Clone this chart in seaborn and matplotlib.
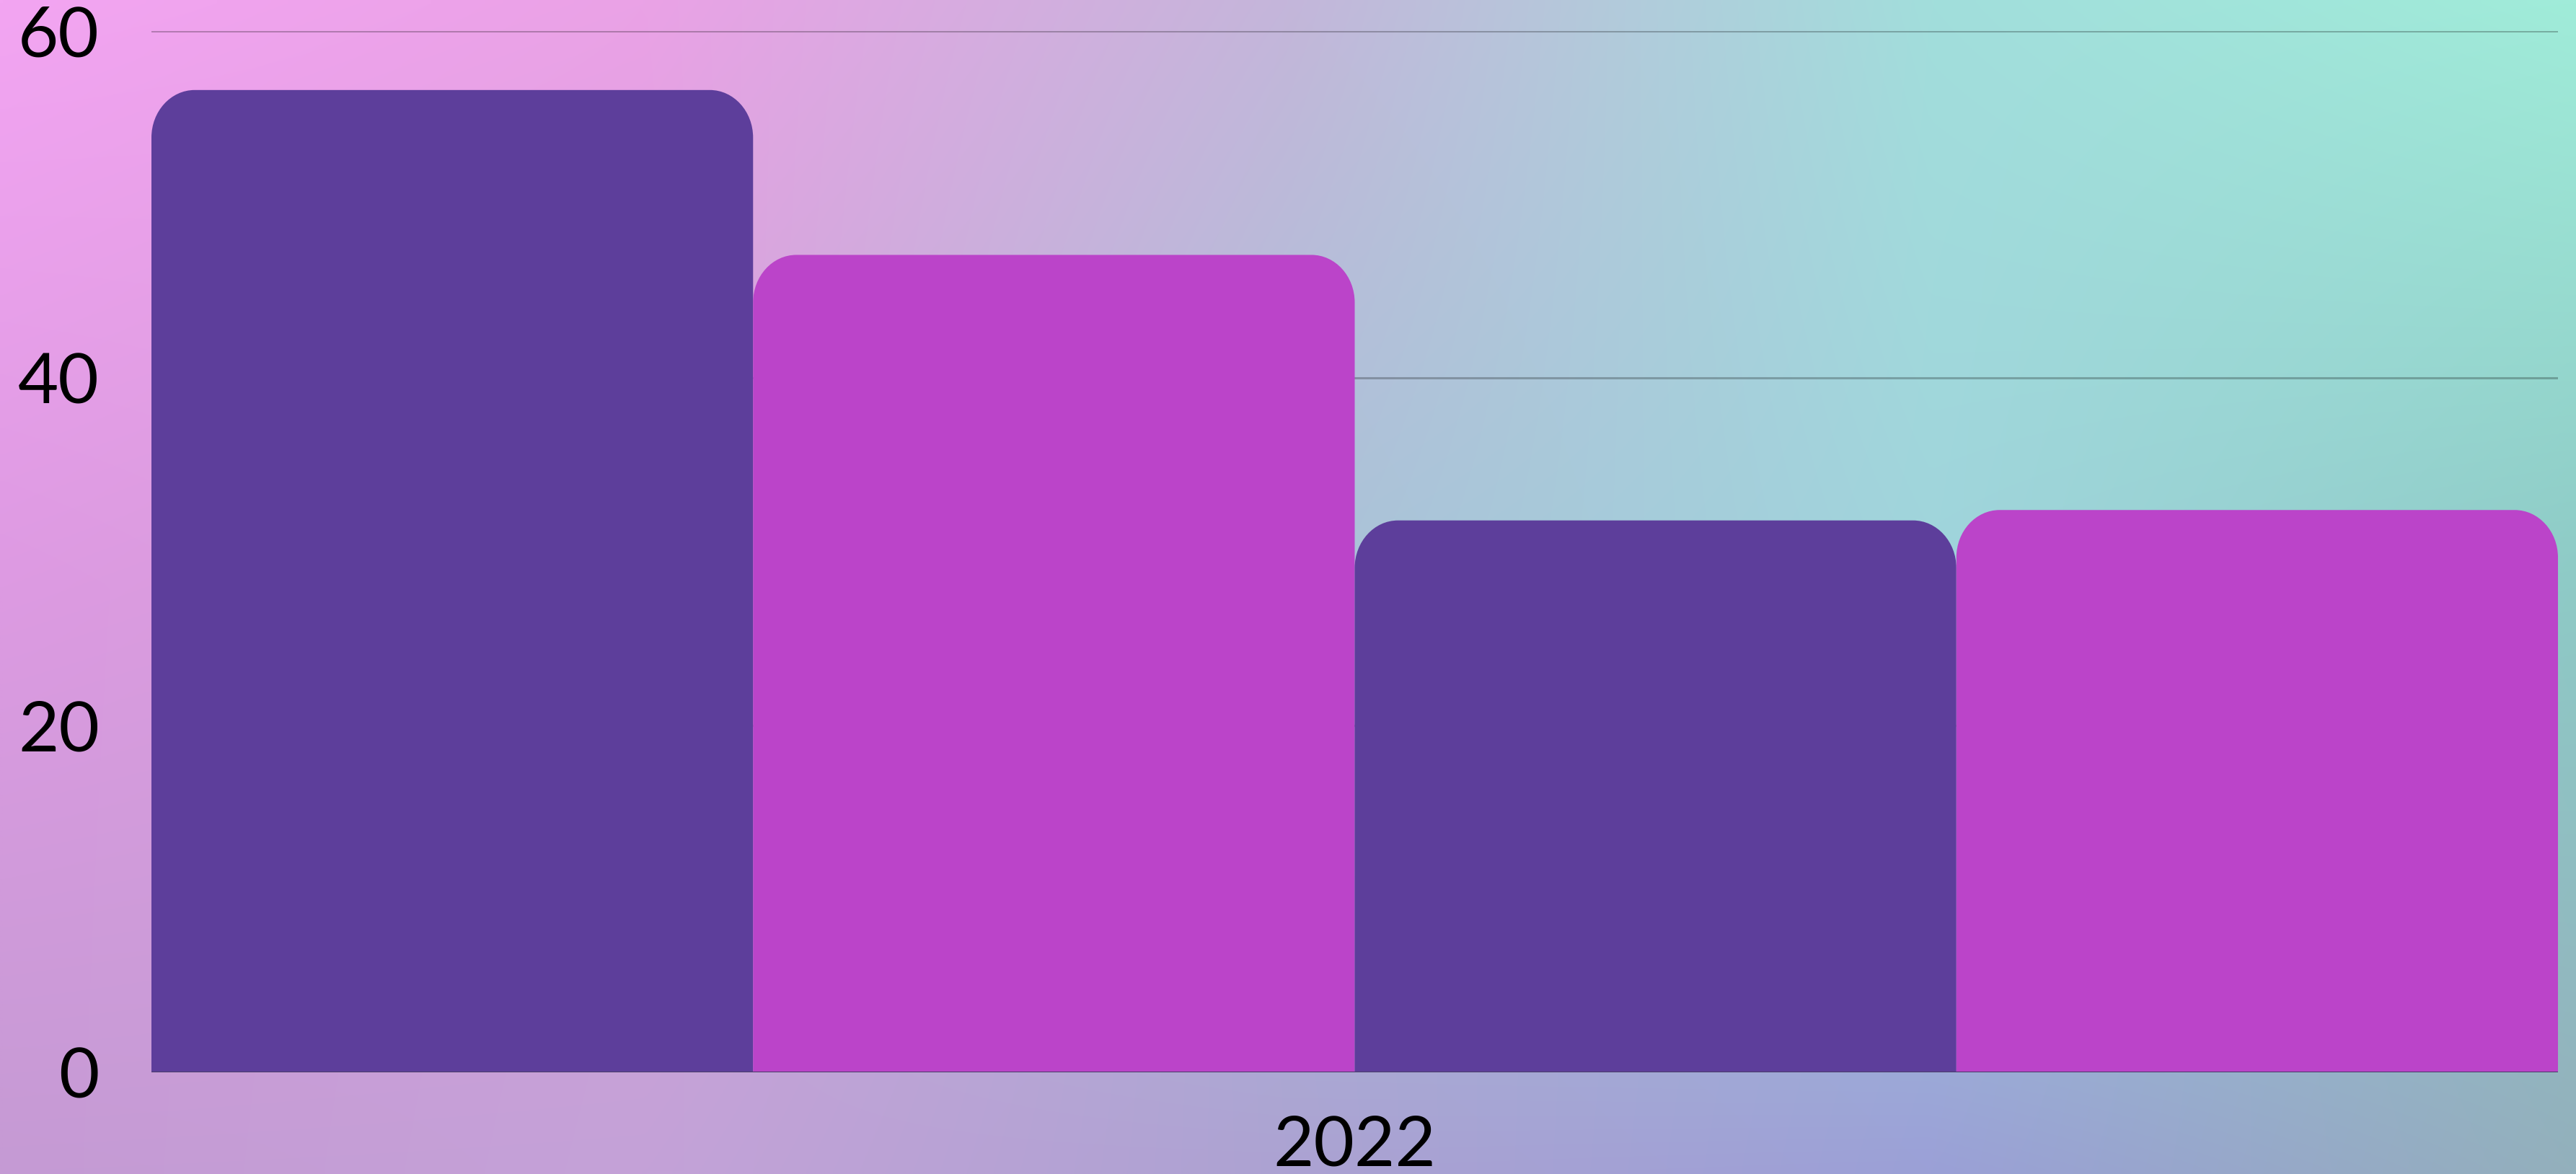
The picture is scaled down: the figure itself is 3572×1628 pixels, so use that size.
import numpy as np
import pandas as pd
import matplotlib
matplotlib.use("Agg")
import matplotlib.pyplot as plt
from matplotlib.path import Path
from matplotlib.patches import PathPatch
from matplotlib.colors import to_rgb
import seaborn as sns

# ---- data ----
categories = ["2022"]
series = ["S1", "S2", "S3", "S4"]
values = [56.6, 47.1, 31.8, 32.4]
bar_colors = ["#5D3E9B", "#BB44C9", "#5D3E9B", "#BB44C9"]
y_ticks = [0, 20, 40, 60]

df = pd.DataFrame({"year": categories * len(series), "series": series, "value": values})

sns.set_theme(style="white")
plt.rcParams["font.family"] = ["Lato", "DejaVu Sans"]

W, H, DPI = 3572, 1628, 100
fig = plt.figure(figsize=(W / DPI, H / DPI), dpi=DPI)

# ---- background gradient ----
top = ["#f3a5f2", "#eaa2e6", "#c4b6da", "#a2dedc", "#a0ecd9"]
mid = ["#dd9ae2", "#d4a0d8", "#aac2d8", "#a0d4dc", "#8ecac6"]
bot = ["#c59ad4", "#c4a2d8", "#aca2d2", "#9ba0d7", "#93b0bc"]
ctrl = np.array([[to_rgb(c) for c in row] for row in (top, mid, bot)])
ny, nx = 200, 400
xs = np.linspace(0, 1, nx)
ys = np.linspace(0, 1, ny)
cx = np.linspace(0, 1, ctrl.shape[1])
cy = np.linspace(0, 1, ctrl.shape[0])
tmp = np.stack([np.stack([np.interp(xs, cx, ctrl[r, :, ch]) for ch in range(3)], -1)
                for r in range(ctrl.shape[0])])
img = np.stack([np.stack([np.interp(ys, cy, tmp[:, i, ch]) for ch in range(3)], -1)
                for i in range(nx)], 1)
bg = fig.add_axes([0, 0, 1, 1], zorder=-10)
bg.imshow(img, aspect="auto", extent=[0, 1, 0, 1], origin="upper", interpolation="bilinear")
bg.axis("off")

# ---- main axes ----
left, right, bottom_px, top_px = 210, 3547, 1487, 43
ax = fig.add_axes([left / W, 1 - bottom_px / H, (right - left) / W, (bottom_px - top_px) / H])
ax.patch.set_alpha(0)

sns.barplot(data=df, x="year", y="value", hue="series", palette=bar_colors,
            width=1, dodge=True, saturation=1, legend=False, ax=ax, zorder=3)

ax.set_xlim(-0.5, 0.5)
ax.set_ylim(0, 60)
ax.set_yticks(y_ticks)
ax.set_yticklabels([str(t) for t in y_ticks])
for s in ax.spines.values():
    s.set_visible(False)
ax.set_xlabel("")
ax.set_ylabel("")
ax.tick_params(axis="y", length=0, pad=52, labelsize=70, labelcolor="black")
ax.tick_params(axis="x", length=0, pad=42, labelsize=70, labelcolor="black")
ax.set_axisbelow(True)
ax.yaxis.grid(True, color="black", alpha=0.25, linewidth=2.2)
ax.xaxis.grid(False)

# rounded top corners
ax_w_px = right - left
ax_h_px = bottom_px - top_px
rx = 60 / ax_w_px * 1.0
ry = 66 / ax_h_px * 60.0
k = 0.5523
for p in list(ax.patches):
    x0, w, h = p.get_x(), p.get_width(), p.get_height()
    x1 = x0 + w
    fc = p.get_facecolor()
    verts = [
        (x0, 0), (x0, h - ry),
        (x0, h - ry + k * ry), (x0 + rx - k * rx, h), (x0 + rx, h),
        (x1 - rx, h),
        (x1 - rx + k * rx, h), (x1, h - ry + k * ry), (x1, h - ry),
        (x1, 0), (x0, 0),
    ]
    codes = [Path.MOVETO, Path.LINETO,
             Path.CURVE4, Path.CURVE4, Path.CURVE4,
             Path.LINETO,
             Path.CURVE4, Path.CURVE4, Path.CURVE4,
             Path.LINETO, Path.CLOSEPOLY]
    ax.add_patch(PathPatch(Path(verts, codes), facecolor=fc, edgecolor="none",
                           linewidth=0, zorder=3))
    p.set_visible(False)

ax.axhline(0, color="#4a3f6a", linewidth=1.5, zorder=5)

fig.savefig("out.png", dpi=DPI)
